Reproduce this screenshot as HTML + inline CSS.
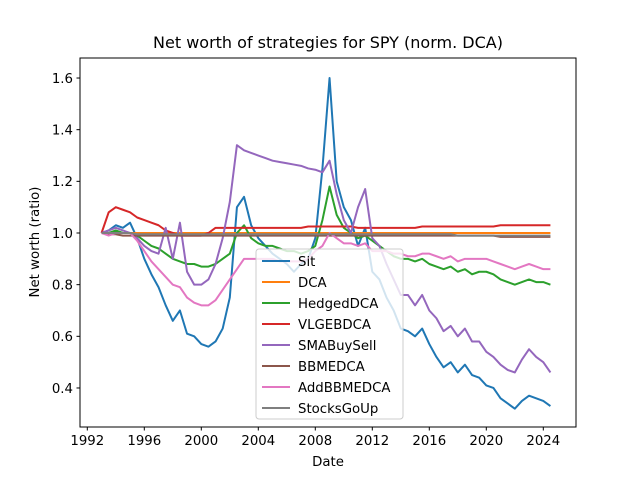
<!DOCTYPE html>
<html><head><meta charset="utf-8"><style>
body{margin:0;background:#fff;}
svg{display:block;font-family:"DejaVu Sans","Liberation Sans",sans-serif;}
</style></head><body>
<svg id="chart" width="640" height="480" viewBox="0 0 640 480" xmlns="http://www.w3.org/2000/svg">
<rect width="640" height="480" fill="#fff"/>
<text x="328" y="48" text-anchor="middle" font-size="16">Net worth of strategies for SPY (norm. DCA)</text>
<text x="328" y="466" text-anchor="middle" font-size="13.3">Date</text>
<text transform="translate(39,242) rotate(-90)" text-anchor="middle" font-size="13.3">Net worth (ratio)</text>
<g id="ticks"></g>
<g id="series" clip-path="url(#clip)"></g>
<defs><clipPath id="clip"><rect x="80" y="58" width="496" height="369"/></clipPath></defs>
<rect x="80" y="58" width="496" height="369" fill="none" stroke="#000" stroke-width="1"/>
<g id="legend"></g>
</svg>
<script>
const dates=[1993,1993.5,1994,1994.5,1995,1995.5,1996,1996.5,1997,1997.5,1998,1998.5,1999,1999.5,2000,2000.5,2001,2001.5,2002,2002.5,2003,2003.5,2004,2004.5,2005,2005.5,2006,2006.5,2007,2007.5,2008,2008.5,2009,2009.5,2010,2010.5,2011,2011.5,2012,2012.5,2013,2013.5,2014,2014.5,2015,2015.5,2016,2016.5,2017,2017.5,2018,2018.5,2019,2019.5,2020,2020.5,2021,2021.5,2022,2022.5,2023,2023.5,2024,2024.5];
const sit=[1.0,1.01,1.03,1.02,1.04,0.98,0.9,0.84,0.79,0.72,0.66,0.7,0.61,0.6,0.57,0.56,0.58,0.63,0.75,1.1,1.14,1.03,0.98,0.95,0.92,0.9,0.88,0.85,0.88,0.9,0.98,1.25,1.6,1.2,1.1,1.05,0.95,1.02,0.85,0.82,0.75,0.7,0.63,0.62,0.6,0.63,0.57,0.52,0.48,0.5,0.46,0.49,0.45,0.44,0.41,0.4,0.36,0.34,0.32,0.35,0.37,0.36,0.35,0.33];
const dca=[1,1,1,1,1,1,1,1,1,1,1,1,1,1,1,1,1,1,1,1,1,1,1,1,1,1,1,1,1,1,1,1,1,1,1,1,1,1,1,1,1,1,1,1,1,1,1,1,1,1,1,1,1,1,1,1,1,1,1,1,1,1,1,1];
const hedged=[1.0,1.0,1.01,1.0,1.0,0.99,0.97,0.95,0.94,0.92,0.9,0.89,0.88,0.88,0.87,0.87,0.88,0.9,0.92,1.0,1.03,0.98,0.96,0.95,0.95,0.94,0.93,0.93,0.92,0.93,0.95,1.05,1.18,1.07,1.02,1.0,0.98,0.99,0.97,0.95,0.93,0.91,0.9,0.9,0.89,0.9,0.88,0.87,0.86,0.87,0.85,0.86,0.84,0.85,0.85,0.84,0.82,0.81,0.8,0.81,0.82,0.81,0.81,0.8];
const vlge=[1.0,1.08,1.1,1.09,1.08,1.06,1.05,1.04,1.03,1.01,1.0,0.99,0.99,0.99,0.99,1.0,1.02,1.02,1.02,1.02,1.02,1.02,1.02,1.02,1.02,1.02,1.02,1.02,1.02,1.025,1.025,1.025,1.025,1.025,1.025,1.025,1.02,1.02,1.02,1.02,1.02,1.02,1.02,1.02,1.02,1.025,1.025,1.025,1.025,1.025,1.025,1.025,1.025,1.025,1.025,1.025,1.03,1.03,1.03,1.03,1.03,1.03,1.03,1.03];
const sma=[1.0,1.01,1.02,1.01,1.0,0.98,0.95,0.93,0.92,1.02,0.9,1.04,0.85,0.8,0.8,0.82,0.88,0.98,1.12,1.34,1.32,1.31,1.3,1.29,1.28,1.275,1.27,1.265,1.26,1.25,1.245,1.235,1.28,1.15,1.05,1.0,1.1,1.17,0.98,0.95,0.88,0.82,0.76,0.76,0.72,0.76,0.7,0.67,0.62,0.64,0.6,0.63,0.58,0.58,0.54,0.52,0.49,0.47,0.46,0.51,0.55,0.52,0.5,0.46];
const bbme=[1.0,0.995,0.995,0.99,0.99,0.99,0.99,0.99,0.99,0.99,0.99,0.99,0.99,0.99,0.99,0.99,0.99,0.99,0.99,0.99,0.99,0.99,0.99,0.99,0.99,0.99,0.99,0.99,0.99,0.99,0.99,0.99,0.99,0.99,0.99,0.99,0.99,0.99,0.99,0.99,0.99,0.99,0.99,0.99,0.99,0.99,0.99,0.99,0.99,0.99,0.99,0.99,0.99,0.99,0.99,0.99,0.985,0.985,0.985,0.985,0.985,0.985,0.985,0.985];
const addbbme=[1.0,0.99,1.0,1.0,1.0,0.97,0.93,0.89,0.86,0.83,0.8,0.79,0.75,0.73,0.72,0.72,0.74,0.78,0.82,0.86,0.9,0.9,0.9,0.9,0.9,0.89,0.89,0.89,0.89,0.9,0.93,0.95,1.0,0.98,0.96,0.96,0.95,0.96,0.93,0.93,0.93,0.92,0.92,0.91,0.91,0.92,0.92,0.91,0.9,0.91,0.89,0.9,0.9,0.9,0.9,0.89,0.88,0.87,0.86,0.87,0.88,0.87,0.86,0.86];
const sgu=[1.0,1.0,1.0,1.0,1.0,0.995,0.995,0.995,0.995,0.995,0.995,0.995,0.995,0.995,0.995,0.995,0.995,0.995,0.995,0.995,0.995,0.995,0.995,0.995,0.995,0.995,0.995,0.995,0.995,0.995,0.995,0.995,0.995,0.995,0.995,0.995,0.995,0.995,0.995,0.995,0.995,0.995,0.995,0.995,0.995,0.995,0.995,0.995,0.995,0.995,0.99,0.99,0.99,0.99,0.99,0.99,0.99,0.99,0.99,0.99,0.99,0.99,0.99,0.99];
const names=["Sit","DCA","HedgedDCA","VLGEBDCA","SMABuySell","BBMEDCA","AddBBMEDCA","StocksGoUp"];
const seriesVals=[sit,dca,hedged,vlge,sma,bbme,addbbme,sgu];
const colors=["#1f77b4","#ff7f0e","#2ca02c","#d62728","#9467bd","#8c564b","#e377c2","#7f7f7f"];
const xTicks=[1992,1996,2000,2004,2008,2012,2016,2020,2024];
const yTicks=[0.4,0.6,0.8,1.0,1.2,1.4,1.6];

const NS="http://www.w3.org/2000/svg";
function xS(t){return 87.3+(t-1992)*14.25;}
function yS(v){return 233-(v-1)*258.3;}
function mk(tag,attrs,parent){const e=document.createElementNS(NS,tag);for(const k in attrs)e.setAttribute(k,attrs[k]);parent.appendChild(e);return e;}
const tk=document.getElementById('ticks');
xTicks.forEach(t=>{
  const l=mk('line',{x1:xS(t),x2:xS(t),y1:427,y2:430.5,stroke:'#000'},tk);
  
  
  const tx=mk('text',{x:xS(t),y:445,'text-anchor':'middle','font-size':'13.3'},tk);
  tx.textContent=t;
  
  
});
yTicks.forEach(v=>{
  const l=mk('line',{x1:76.5,x2:80,y1:yS(v),y2:yS(v),stroke:'#000'},tk);
  
  
  const tx=mk('text',{x:73,y:yS(v)+4.8,'text-anchor':'end','font-size':'13.3'},tk);
  tx.textContent=v.toFixed(1);
  
  
});
const sg=document.getElementById('series');
seriesVals.forEach((vals,i)=>{
  const d=vals.map((v,j)=>(j?'L':'M')+xS(dates[j]).toFixed(2)+','+yS(v).toFixed(2)).join(' ');
  const p=mk('path',{d:d,fill:'none',stroke:colors[i],'stroke-width':'2','stroke-linejoin':'round'},sg);
  
  
});
const lg=document.getElementById('legend');
const box=mk('rect',{x:256,y:249,width:147,height:170,rx:3,fill:'#fff','fill-opacity':'0.8',stroke:'#ccc'},lg);


names.forEach((n,i)=>{
  const y=261+i*21;
  const l=mk('line',{x1:262,x2:290,y1:y,y2:y,stroke:colors[i],'stroke-width':'2'},lg);
  
  
  const tx=mk('text',{x:298,y:y+4.8,'font-size':'13.3'},lg);
  tx.textContent=n;
  
  
});
</script>
</body></html>
